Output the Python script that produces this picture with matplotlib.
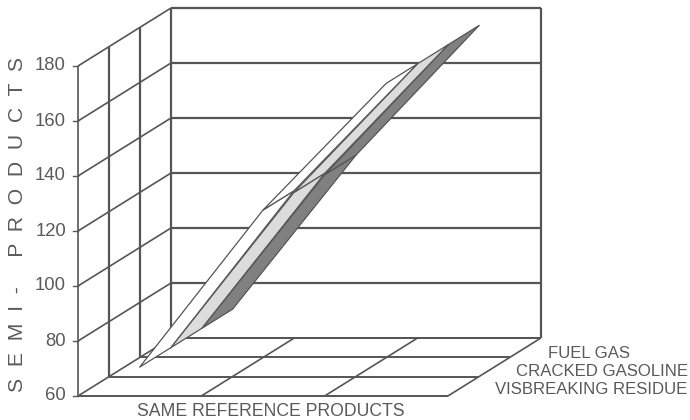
import matplotlib
matplotlib.use("Agg")
import matplotlib.pyplot as plt
from matplotlib.patches import Polygon

plt.rcParams['font.family'] = ['Liberation Sans', 'DejaVu Sans']

# chart data, front ribbon first
series_names = ["VISBREAKING RESIDUE", "CRACKED GASOLINE", "FUEL GAS"]
visbreaking_residue = [70.5, 127.6, 173.7]
cracked_gasoline = [70.5, 127.0, 173.7]
fuel_gas = [70.5, 126.5, 173.7]
y_ticks = [60, 80, 100, 120, 140, 160, 180]
ribbon_colors = ["white", "#dcdcdc", "#808080"]

LINE = "#555555"
TEXT = "#5a5a5a"

# oblique projection of the 3d box, in pixels
X0, Y0 = 78, 396
CELL_W = 123.3
PX_PER_UNIT = 2.75
DEPTH_X, DEPTH_Y = 93, 58


def project(x, value, depth):
    return (X0 + CELL_W * x + DEPTH_X * depth,
            Y0 - PX_PER_UNIT * (value - y_ticks[0]) - DEPTH_Y * depth)


def line3d(ax, start, end, lw=1.2):
    p, q = project(*start), project(*end)
    ax.plot([p[0], q[0]], [p[1], q[1]], color=LINE, lw=lw, solid_capstyle='butt', zorder=1)


fig = plt.figure(figsize=(6.9, 4.2), dpi=100)
ax = fig.add_axes([0, 0, 1, 1])
ax.set_xlim(0, 690)
ax.set_ylim(420, 0)
ax.axis("off")

vmin, vmax = y_ticks[0], y_ticks[-1]

# walls
for v in y_ticks:
    line3d(ax, (0, v, 1), (3, v, 1), lw=1.6 if v > vmin else 1.2)
    line3d(ax, (0, v, 0), (0, v, 1))
    tx, ty = project(0, v, 0)
    ax.plot([tx - 5, tx], [ty, ty], color=LINE, lw=1.0, zorder=1)
    ax.text(tx - 12, ty, str(v), ha='right', va='center', fontsize=13.3, color=TEXT)

for d in [0, 1 / 3, 2 / 3, 1]:
    line3d(ax, (0, vmin, d), (0, vmax, d), lw=1.6 if d > 0 else 1.2)
line3d(ax, (3, vmin, 1), (3, vmax, 1), lw=1.6)

# floor
for d in [0, 1 / 3, 2 / 3, 1]:
    line3d(ax, (0, vmin, d), (3, vmin, d), lw=1.4)
for x in [1, 2, 3]:
    line3d(ax, (x, vmin, 0), (x, vmin, 1))

# ribbons, back to front so the nearer ones overlap
all_series = [visbreaking_residue, cracked_gasoline, fuel_gas]
for s in [2, 1, 0]:
    values = all_series[s]
    d0, d1 = s / 3, (s + 1) / 3
    for i in range(len(values) - 1):
        x0, x1 = i + 0.5, i + 1.5
        quad = [project(x0, values[i], d0), project(x1, values[i + 1], d0),
                project(x1, values[i + 1], d1), project(x0, values[i], d1)]
        ax.add_patch(Polygon(quad, closed=True, facecolor=ribbon_colors[s],
                             edgecolor=LINE, lw=0.9, joinstyle='round', zorder=3 + 2 - s))

# axis titles
ax.text(18, 224, "S  E  M  I  -     P  R  O  D  U  C  T  S", rotation=90, ha='center', va='center',
        fontsize=15.2, color=TEXT)
ax.text(271, 411, "SAME REFERENCE PRODUCTS", ha='center', va='center', fontsize=12.7, color=TEXT)

# series names on the depth axis
ax.text(630, 354, series_names[2], ha='right', va='center', fontsize=12.1, color=TEXT)
ax.text(688, 372, series_names[1], ha='right', va='center', fontsize=12.1, color=TEXT)
ax.text(687, 389, series_names[0], ha='right', va='center', fontsize=12.1, color=TEXT)

fig.savefig("out.png", dpi=100)
